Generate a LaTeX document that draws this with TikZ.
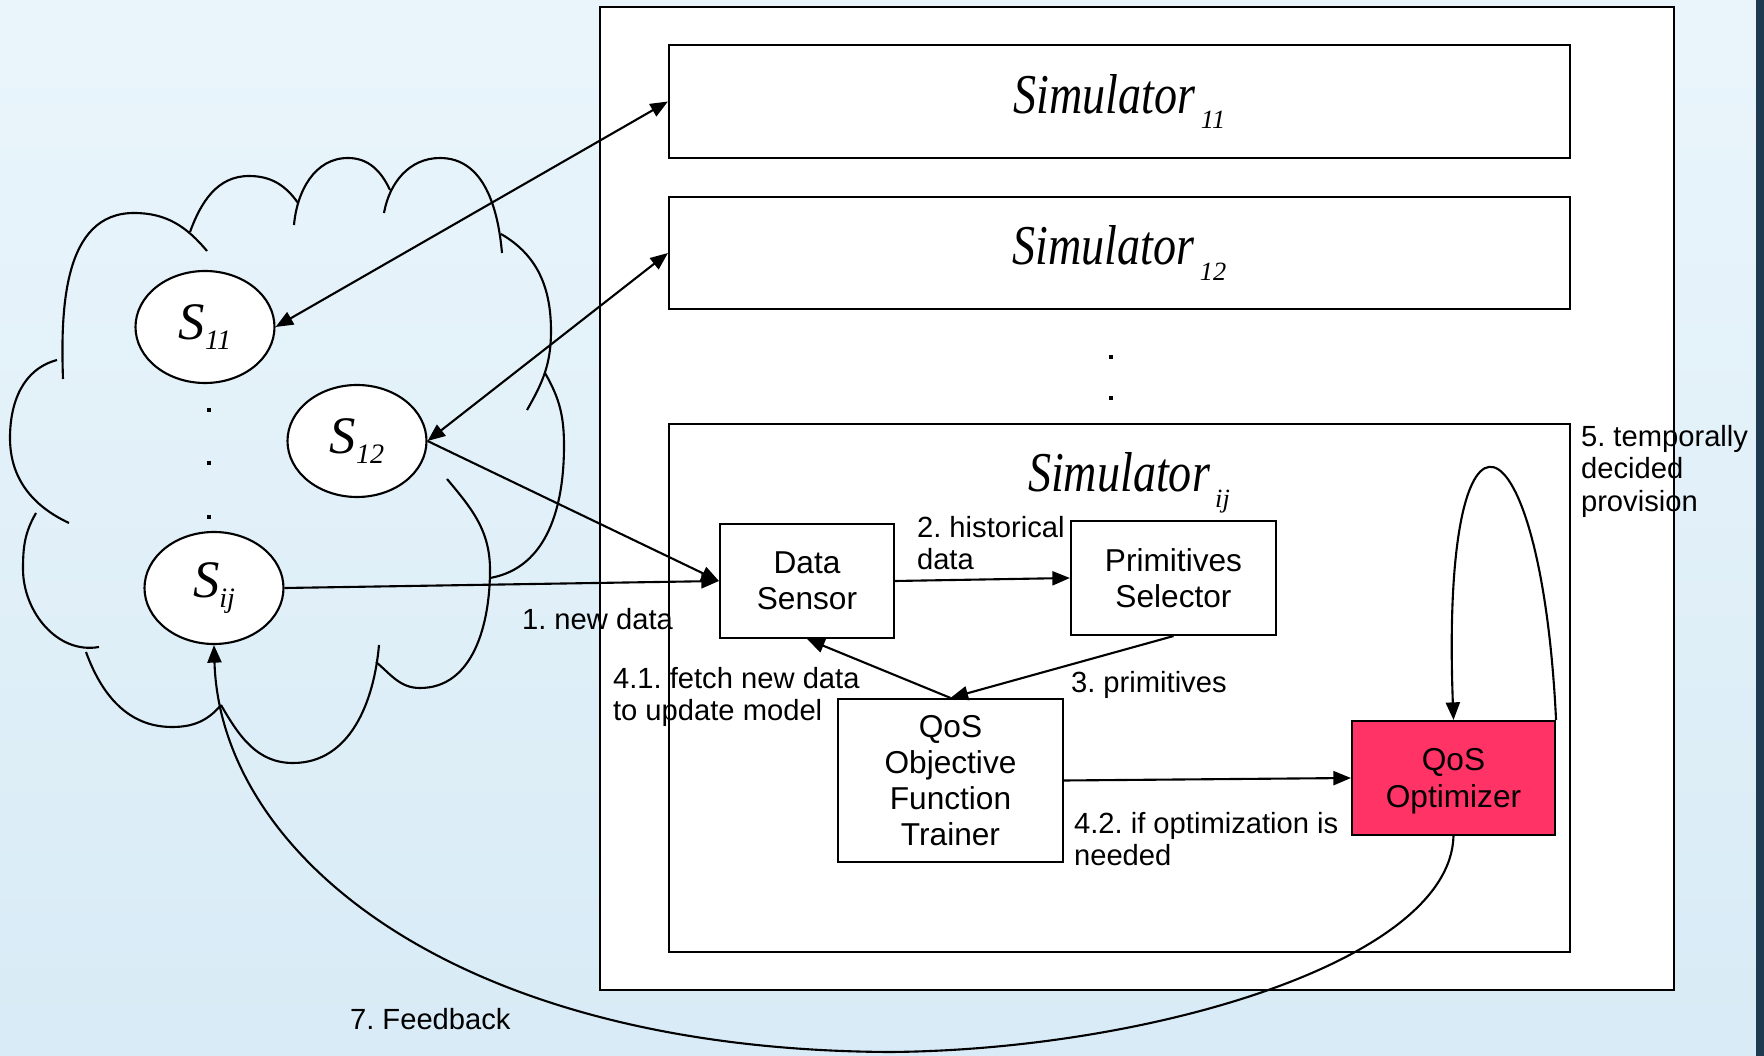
\documentclass[tikz,border=0pt]{standalone}
\usepackage{fontspec}
\setmainfont{Liberation Sans}
\newfontfamily\timesfont{Liberation Serif}
\usepackage{graphicx}
\usetikzlibrary{arrows.meta, shapes.geometric, positioning}
\definecolor{colorOptimizer}{RGB}{255,51,102}
\definecolor{colorWater}{RGB}{234,245,251}
\definecolor{colorWaterDeep}{RGB}{216,235,246}
\definecolor{colorEdge}{RGB}{30,58,80}
\newcommand{\simlabel}[1]{{\timesfont\itshape\scalebox{0.82}[1]{\fontsize{16}{16}\selectfont Simulator}\kern1.5pt\raisebox{-4.5pt}{\fontsize{7.5}{7.5}\selectfont #1}}}
\newcommand{\satlabel}[1]{{\timesfont\itshape\fontsize{15}{15}\selectfont S\raisebox{-3pt}{\fontsize{8}{8}\selectfont #1}}}
\tikzset{
  block/.style={draw, fill=white, inner sep=0pt, align=center, font=\fontsize{9}{10.3}\selectfont},
  sat/.style={draw, ellipse, fill=white, inner sep=0pt, minimum width=13.9mm, minimum height=11.2mm},
  note/.style={anchor=north west, align=left, inner sep=0pt, font=\fontsize{8.3}{9.3}\selectfont},
  vdot/.style={fill, inner sep=0pt, minimum size=0.45mm}
}
\frenchspacing

\begin{document}
\begin{tikzpicture}[x=0.1mm, y=-0.1mm, >={Triangle[length=5pt,width=4pt]}, line width=0.6pt]
\useasboundingbox (0,0) rectangle (1764,1056);
\shade[top color=colorWater, bottom color=colorWaterDeep] (0,0) rectangle (1756,1056);
\fill[colorEdge] (1756,0) rectangle (1764,1056);

\draw (63,379) to[out=92,in=180] (134,213) to[out=0,in=130] (207,251);
\draw (190,232) to[out=70,in=180] (249,176) to[out=0,in=125] (298,203);
\draw (294,225) to[out=85,in=180] (348,158) to[out=0,in=115] (390,190);
\draw (384,213) to[out=80,in=180] (440,158) to[out=0,in=95] (502,253);
\draw (501,234) to[out=-30,in=90] (551,331) to[out=-90,in=60] (527,410);
\draw (545,373) to[out=-60,in=90] (564,446) to[out=-90,in=10] (490,578);
\draw (447,479) to[out=-50,in=90] (490,570) to[out=-90,in=0] (420,688) to[out=180,in=-40] (376,662);
\draw (379,645) to[out=-95,in=0] (293,763) to[out=180,in=-60] (221,705);
\draw (86,652) to[out=-70,in=180] (172,727) to[out=0,in=-130] (221,705);
\draw (99,647) to[out=190,in=-90] (23,569) to[out=90,in=-120] (36,513);
\draw (69,523) to[out=155,in=-90] (10,438) to[out=90,in=195] (57,360);

\node[block, minimum width=107.4mm, minimum height=98.3mm] (simbank) at (1137,498.5) {};
\node[block, minimum width=90.1mm, minimum height=11.3mm] (sim11) at (1119.5,101.5) {\simlabel{11}};
\node[block, minimum width=90.1mm, minimum height=11.2mm] (sim12) at (1119.5,253) {\simlabel{12}};
\node[vdot] (simdotA) at (1111,357) {};
\node[vdot] (simdotB) at (1111,398) {};
\node[block, minimum width=90.1mm, minimum height=52.8mm] (simij) at (1119.5,688) {};
\node[anchor=base west, inner sep=0pt] (simijname) at (1027,492) {\simlabel{ij}};

\node[block, minimum width=17.4mm, minimum height=11.4mm] (sensor) at (807,581) {Data\\Sensor};
\node[block, minimum width=20.5mm, minimum height=11.4mm] (selector) at (1173.5,578) {Primitives\\Selector};
\node[block, minimum width=22.5mm, minimum height=16.3mm] (trainer) at (950.5,780.5) {QoS\\Objective\\Function\\Trainer};
\node[block, fill=colorOptimizer, minimum width=20.3mm, minimum height=11.4mm, text depth=-2pt] (optimizer) at (1453.5,778) {QoS\\Optimizer};

\node[sat] (s11) at (205,327) {\satlabel{11}};
\node[sat] (s12) at (357,441) {\satlabel{12}};
\node[sat] (sij) at (214,588) {\satlabel{ij}};
\node[vdot] (satdotA) at (209,410) {};
\node[vdot] (satdotB) at (209,463) {};
\node[vdot] (satdotC) at (209,517) {};
\coordinate (fbbottom) at (890,1052);

\draw[<->] (s11.east) -- (sim11.west);
\draw[<->] (s12.east) -- (sim12.west);
\draw[->] (s12.east) -- (sensor.west);
\draw[->] (sij.east) -- (sensor.west);
\draw[->] (sensor.east) -- (selector.west);
\draw[->] (selector.south) -- (trainer.north);
\draw[->] (trainer.north) -- (sensor.south);
\draw[->] (trainer.east) -- (optimizer.west);
\draw[->] (optimizer.north east) .. controls +(-15,-312) and +(-13.5,-356) .. (optimizer.north);
\draw[->] (optimizer.south) .. controls +(-3.5,125) and +(260,-2) .. (fbbottom) .. controls +(-440,-2) and +(6,207) .. (sij.south);

\node[note, anchor=west] (newdatalbl) at (521,619) {1. new data};
\node[note] (histlbl) at (916,515) {2. historical\\data};
\node[note, anchor=west] (primlbl) at (1070,685) {3. primitives};
\node[note] (fetchlbl) at (612,666) {4.1. fetch new data\\to update model};
\node[note] (optlbl) at (1073,811) {4.2. if optimization is\\needed};
\node[note] (provlbl) at (1580,424) {5. temporally\\decided\\provision};
\node[note, anchor=west] (feedbacklbl) at (349,1019) {7. Feedback};
\end{tikzpicture}
\end{document}
